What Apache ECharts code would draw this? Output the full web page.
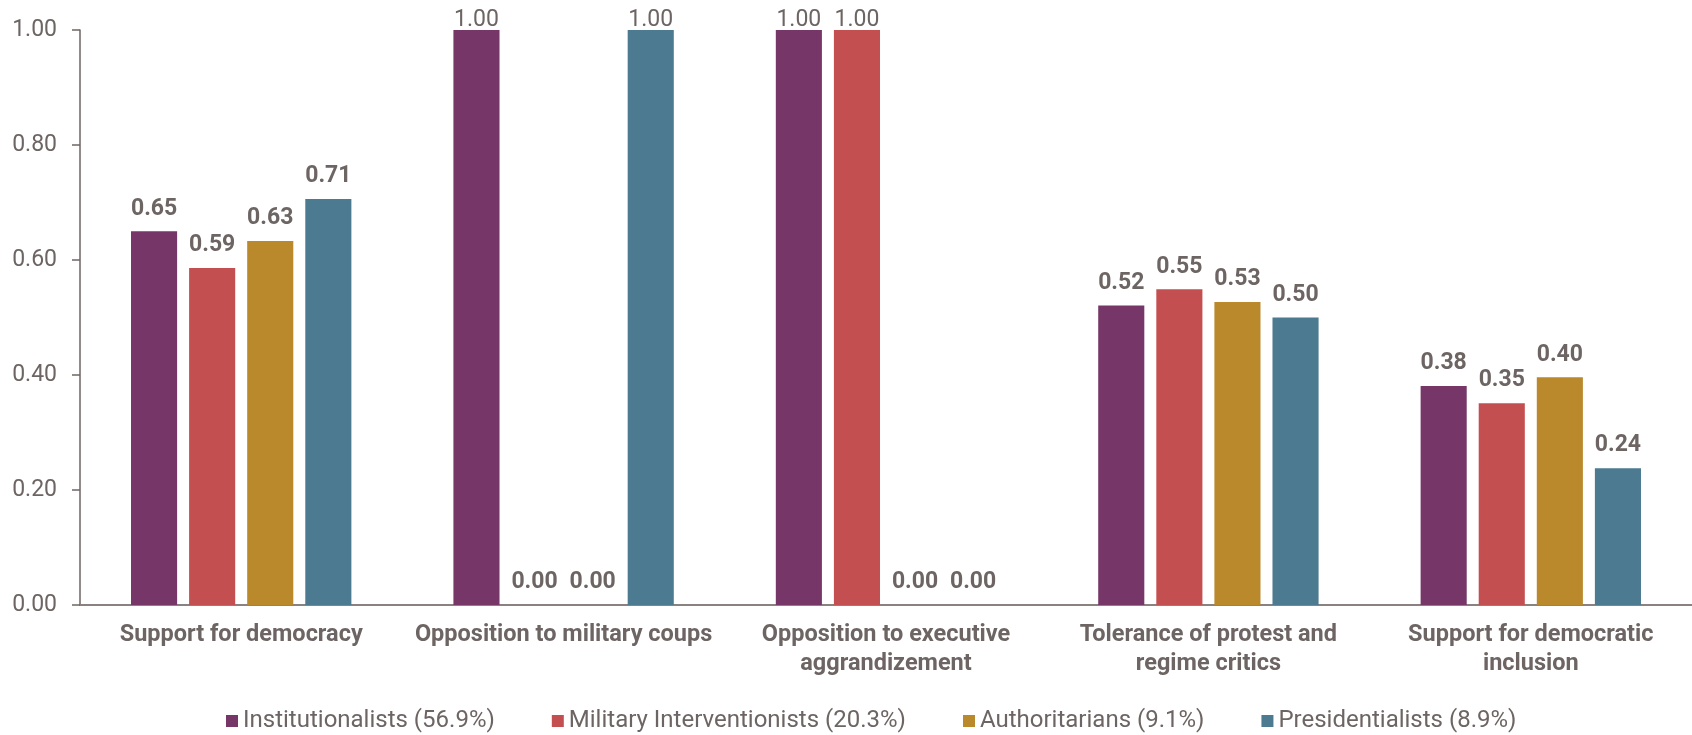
<!DOCTYPE html>
<html>
<head>
<meta charset="utf-8">
<script src="https://cdn.jsdelivr.net/npm/echarts@6/dist/echarts.min.js"></script>
<style>
html,body{margin:0;padding:0;background:#fff;}
#chart{width:1692px;height:735px;}
</style>
</head>
<body>
<div id="chart"></div>
<script>
const categories = [
  "Support for democracy",
  "Opposition to military coups",
  "Opposition to executive\naggrandizement",
  "Tolerance of protest and\nregime critics",
  "Support for democratic\ninclusion"
];
const seriesNames = [
  "Institutionalists (56.9%)",
  "Military Interventionists (20.3%)",
  "Authoritarians (9.1%)",
  "Presidentialists (8.9%)"
];
const institutionalists = [0.650, 1.00, 1.00, 0.521, 0.381];
const militaryInterventionists = [0.586, 0.00, 1.00, 0.549, 0.351];
const authoritarians = [0.633, 0.00, 0.00, 0.527, 0.396];
const presidentialists = [0.706, 1.00, 0.00, 0.500, 0.238];
const yTicks = [0, 0.2, 0.4, 0.6, 0.8, 1.0];

const colors = ["#763668", "#C44F51", "#BA892C", "#4B7A91"];
const textColor = "#6D6563";
const allValues = [institutionalists, militaryInterventionists, authoritarians, presidentialists];

function buildData(vals) {
  return vals.map(v => {
    if (v >= 1) {
      return { value: v, label: { distance: -2, fontWeight: 'normal', fontSize: 23 } };
    }
    return { value: v };
  });
}

const chart = echarts.init(document.getElementById('chart'));
chart.setOption({
  animation: false,
  textStyle: { fontFamily: 'Roboto' },
  grid: { left: 80, right: 0, top: 30, bottom: 130, containLabel: false },
  legend: {
    left: 221,
    top: 704,
    itemWidth: 12,
    itemHeight: 12,
    itemGap: 57,
    icon: 'rect',
    textStyle: { color: textColor, fontSize: 24, fontFamily: 'Roboto' },
    data: seriesNames
  },
  xAxis: {
    type: 'category',
    data: categories,
    axisLine: { lineStyle: { color: '#8A8280', width: 2 } },
    axisTick: { show: false },
    axisLabel: {
      color: textColor, fontSize: 23.5, fontWeight: 'bold', margin: 16,
      lineHeight: 29, interval: 0
    }
  },
  yAxis: {
    type: 'value',
    min: 0, max: 1, interval: 0.2,
    splitLine: { show: false },
    axisLine: { show: true, lineStyle: { color: '#6D6563', width: 1.5 } },
    axisTick: { show: true, inside: false, length: 8, lineStyle: { color: '#6D6563', width: 1.5 } },
    axisLabel: {
      color: textColor, fontSize: 23, margin: 23,
      formatter: v => v.toFixed(2)
    }
  },
  series: allValues.map((vals, i) => ({
    name: seriesNames[i],
    type: 'bar',
    data: buildData(vals),
    barWidth: '14.3%',
    barGap: '26%',
    itemStyle: { color: colors[i] },
    label: {
      show: true,
      position: 'top',
      distance: 11,
      color: textColor,
      fontSize: 23,
      fontWeight: 'bold',
      formatter: p => p.value.toFixed(2)
    }
  }))
});
</script>
</body>
</html>
